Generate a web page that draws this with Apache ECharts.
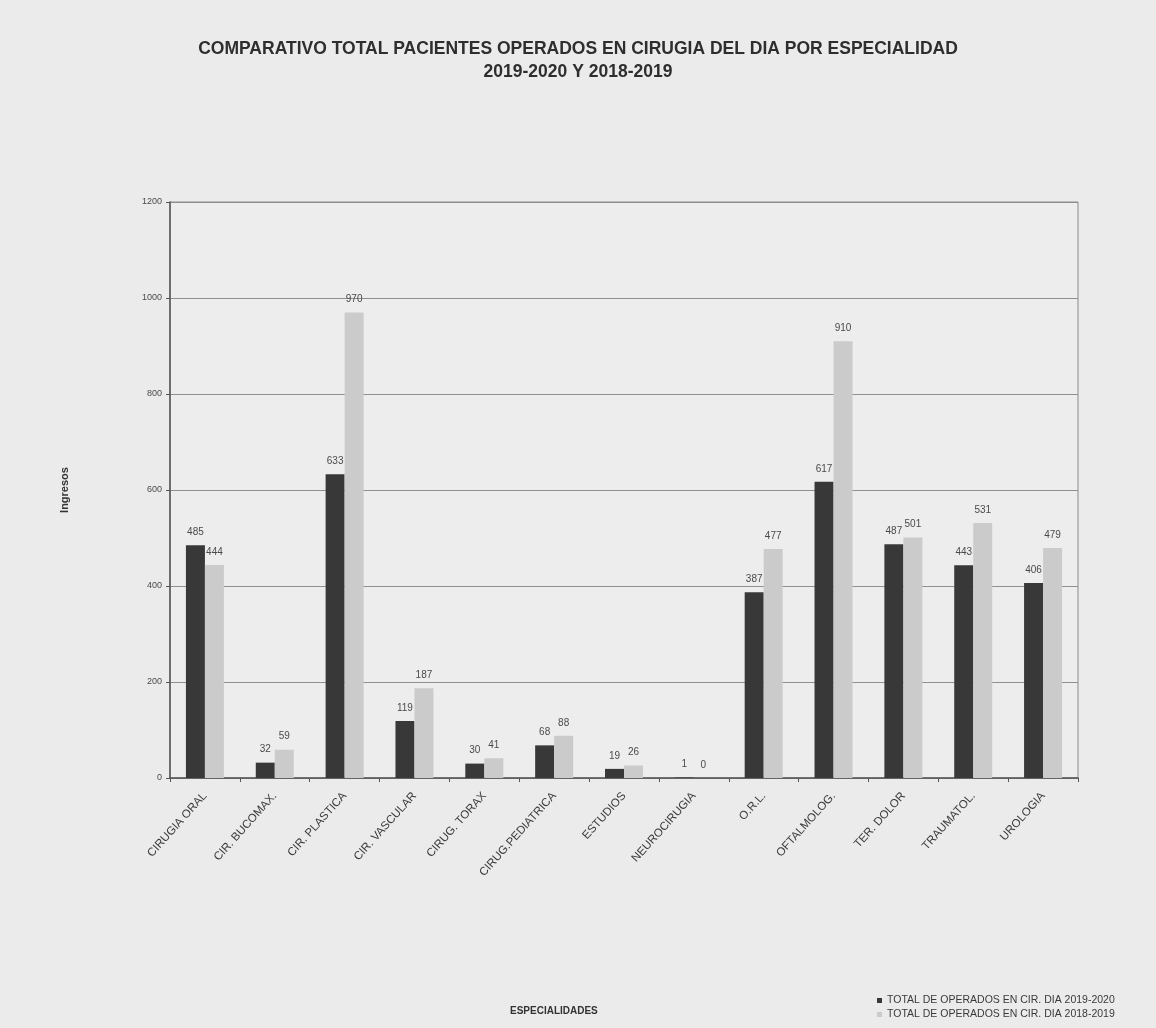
<!DOCTYPE html>
<html>
<head>
<meta charset="utf-8">
<script src="https://cdn.jsdelivr.net/npm/echarts@6/dist/echarts.min.js"></script>
<style>
  html, body { margin: 0; padding: 0; background: #ebebeb; }
  #chart { width: 1156px; height: 1028px; }
</style>
</head>
<body>
<div id="chart"></div>
<script>
// Specialties on the category axis
const especialidades = [
  'CIRUGIA ORAL', 'CIR. BUCOMAX.', 'CIR. PLASTICA', 'CIR. VASCULAR', 'CIRUG. TORAX',
  'CIRUG.PEDIATRICA', 'ESTUDIOS', 'NEUROCIRUGIA', 'O.R.L.', 'OFTALMOLOG.',
  'TER. DOLOR', 'TRAUMATOL.', 'UROLOGIA'
];
// Patients operated, 2019-2020 season
const operados20192020 = [485, 32, 633, 119, 30, 68, 19, 1, 387, 617, 487, 443, 406];
// Patients operated, 2018-2019 season
const operados20182019 = [444, 59, 970, 187, 41, 88, 26, 0, 477, 910, 501, 531, 479];
const serieNombres = [
  'TOTAL DE OPERADOS EN CIR. DIA 2019-2020',
  'TOTAL DE OPERADOS EN CIR. DIA 2018-2019'
];

const fuente = '"Liberation Sans Narrow", "Liberation Sans", Arial, sans-serif';
const chart = echarts.init(document.getElementById('chart'));

const labelStyle = {
  show: true,
  position: 'top',
  distance: 8,
  fontFamily: fuente,
  fontSize: 10,
  color: '#4a4a4a'
};

chart.setOption({
  backgroundColor: '#ebebeb',
  animation: false,
  title: {
    text: 'COMPARATIVO TOTAL PACIENTES OPERADOS EN CIRUGIA DEL DIA POR ESPECIALIDAD\n2019-2020 Y 2018-2019',
    left: 'center',
    top: 33,
    textStyle: {
      fontFamily: fuente,
      fontSize: 17.5,
      fontWeight: 'bold',
      color: '#2e2e2e',
      lineHeight: 23,
      align: 'center'
    }
  },
  legend: {
    orient: 'vertical',
    left: 872,
    top: 990,
    itemWidth: 5,
    itemHeight: 5,
    itemGap: 3,
    icon: 'rect',
    textStyle: { fontFamily: fuente, fontSize: 10.5, color: '#3a3a3a' },
    data: serieNombres
  },
  graphic: [
    {
      type: 'text',
      left: 510,
      top: 1006,
      style: {
        text: 'ESPECIALIDADES',
        fontFamily: fuente,
        fontSize: 10,
        fontWeight: 'bold',
        fill: '#333'
      }
    }
  ],
  grid: {
    left: 170,
    right: 78,
    top: 202,
    bottom: 250,
    show: true,
    backgroundColor: '#ededed',
    borderColor: '#8a8a8a',
    borderWidth: 1
  },
  xAxis: {
    type: 'category',
    data: especialidades,
    axisLine: { lineStyle: { color: '#555', width: 1.5 } },
    axisTick: { show: true, alignWithLabel: false, length: 4, lineStyle: { color: '#555' } },
    axisLabel: {
      rotate: 48,
      interval: 0,
      margin: 16,
      fontFamily: fuente,
      fontSize: 11.5,
      color: '#3c3c3c'
    }
  },
  yAxis: {
    type: 'value',
    min: 0,
    max: 1200,
    interval: 200,
    name: 'Ingresos',
    nameLocation: 'middle',
    nameGap: 100,
    nameRotate: 90,
    nameTextStyle: { fontFamily: fuente, fontSize: 11, fontWeight: 'bold', color: '#333' },
    axisLine: { show: true, lineStyle: { color: '#555', width: 1.5 } },
    axisTick: { show: true, length: 4, lineStyle: { color: '#555' } },
    axisLabel: {
      fontFamily: fuente,
      fontSize: 9,
      color: '#4a4a4a',
      margin: 8,
      formatter: (v) => String(v)
    },
    splitLine: { lineStyle: { color: '#8f8f8f', width: 1 } }
  },
  series: [
    {
      name: serieNombres[0],
      type: 'bar',
      data: operados20192020,
      barWidth: 19,
      barGap: '0%',
      itemStyle: { color: '#383838' },
      label: labelStyle
    },
    {
      name: serieNombres[1],
      type: 'bar',
      data: operados20182019,
      barWidth: 19,
      itemStyle: { color: '#cbcbcb' },
      label: labelStyle
    }
  ]
});
</script>
</body>
</html>
